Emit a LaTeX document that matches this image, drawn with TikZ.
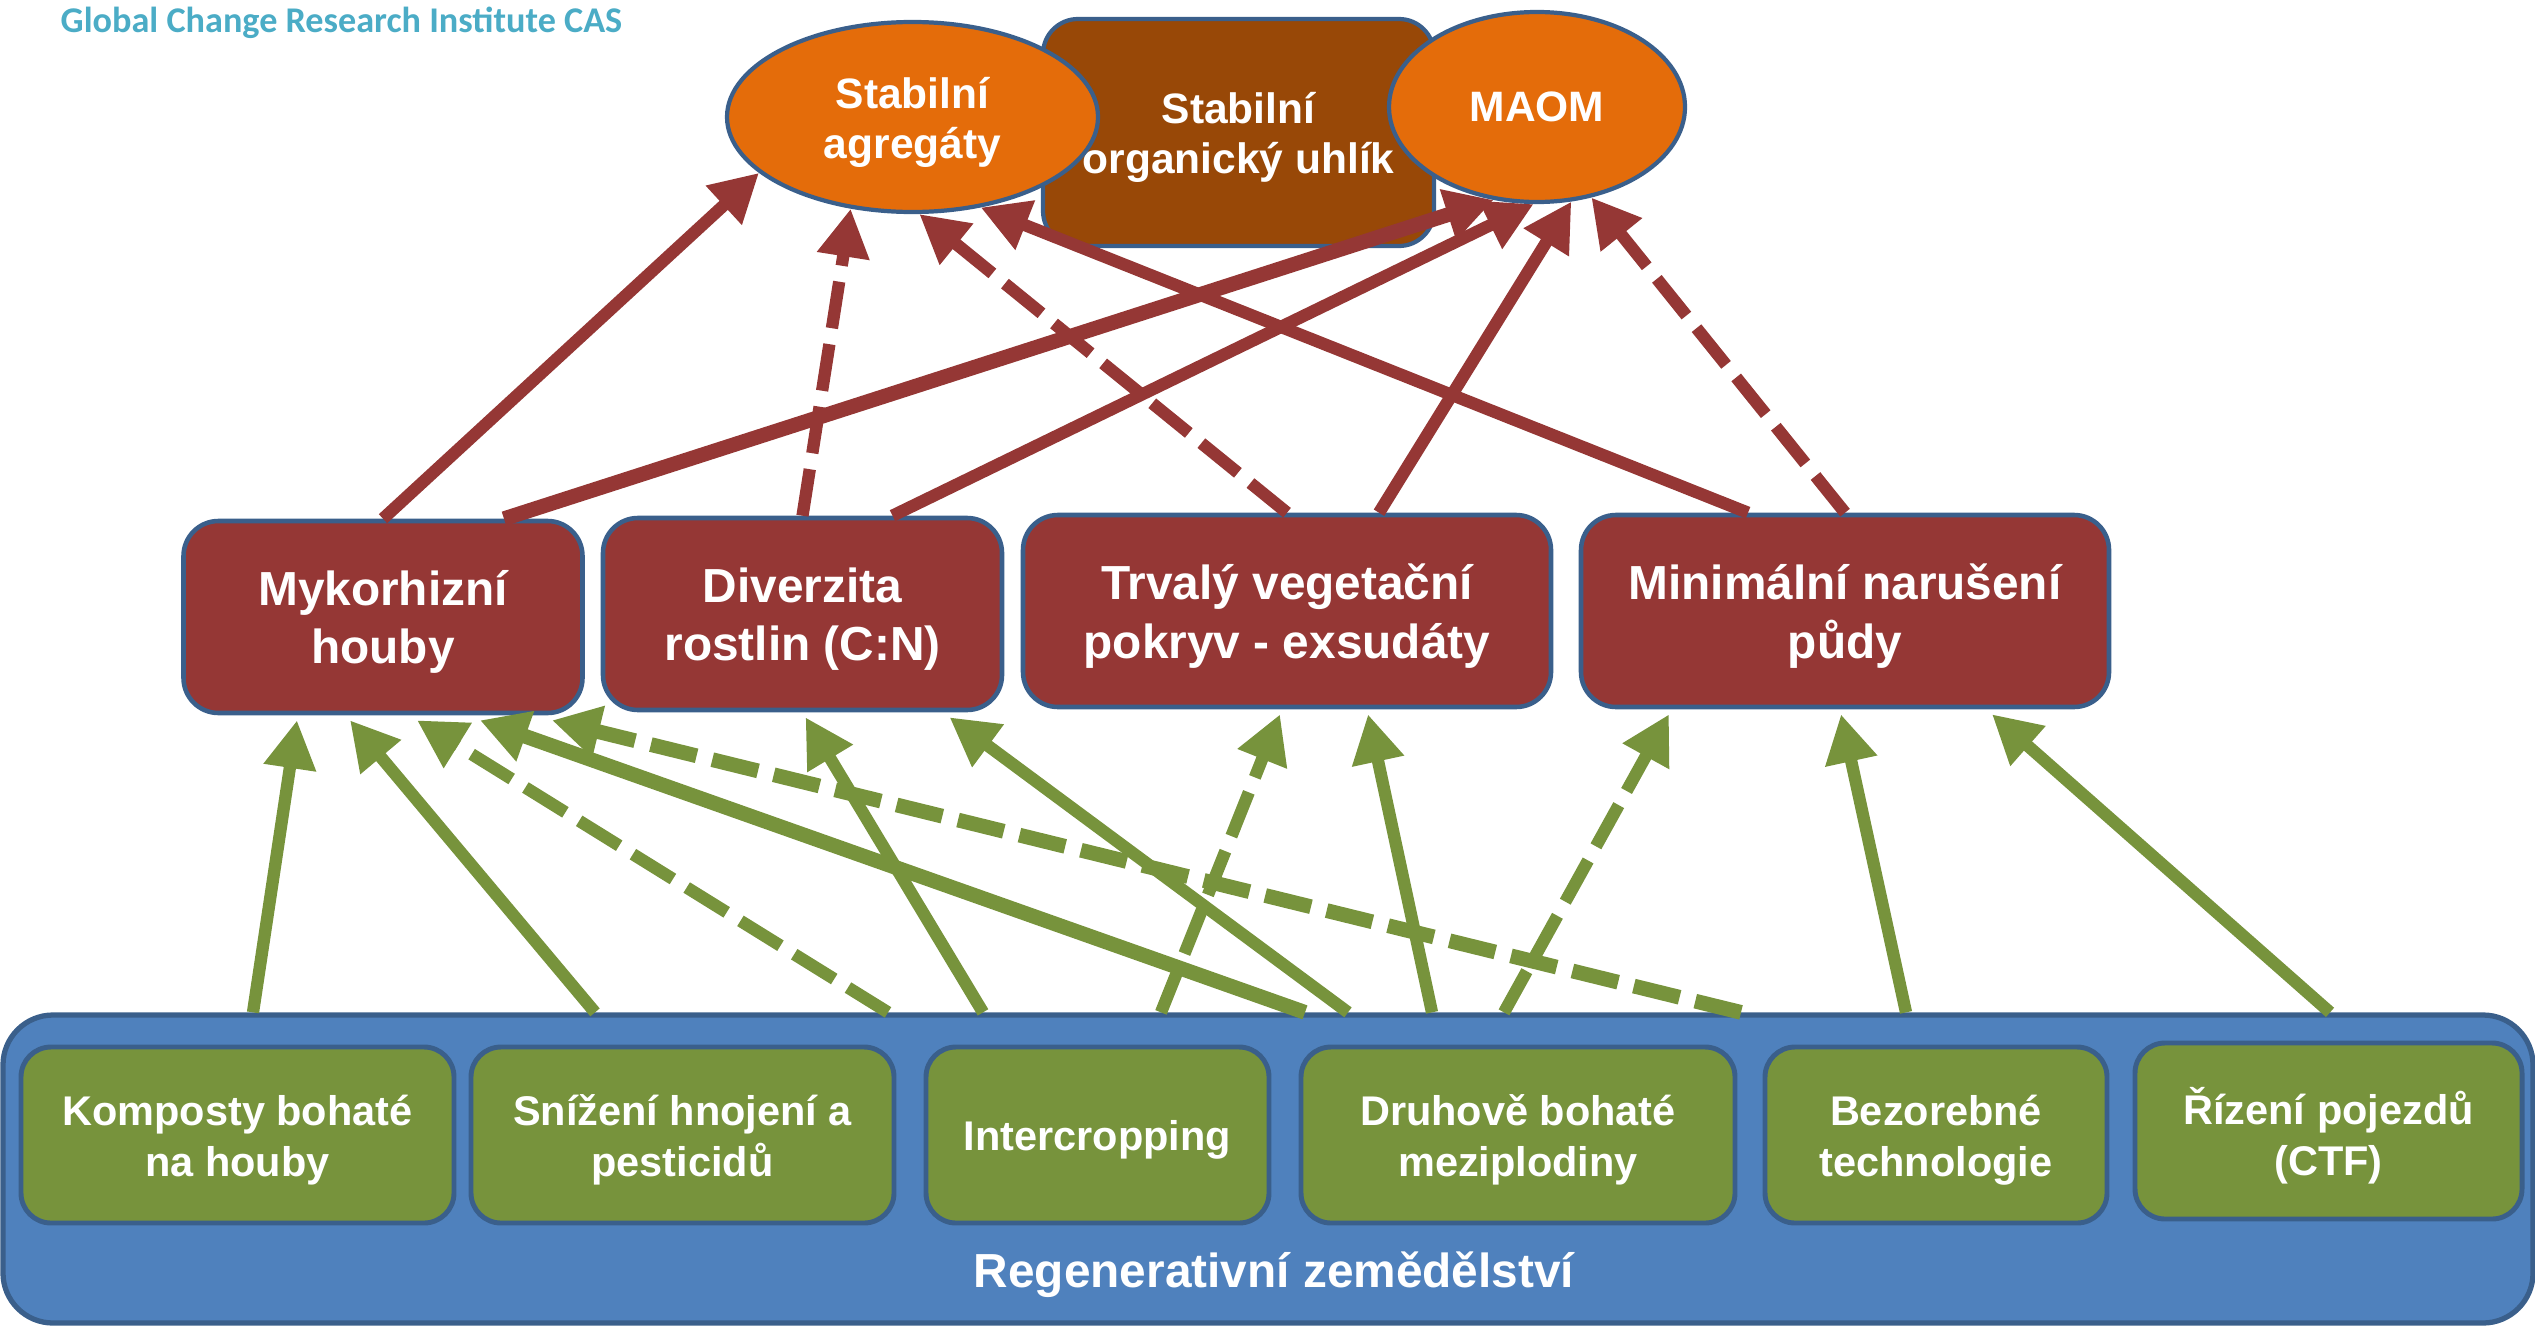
\documentclass[tikz,border=0pt]{standalone}
\usepackage{fontspec}
\setmainfont{Liberation Sans}
\newfontfamily\gcrifont{Carlito}
\usetikzlibrary{arrows.meta,shapes.geometric}

\definecolor{boxblue}{HTML}{3A5F8B}
\definecolor{regblue}{HTML}{4F81BD}
\definecolor{leafgreen}{HTML}{77933C}
\definecolor{rustred}{HTML}{953735}
\definecolor{soilorange}{HTML}{E46C0A}
\definecolor{soilbrown}{HTML}{984807}
\definecolor{gcriteal}{HTML}{4BACC6}

%lower a text line a little inside its box
\newcommand{\dn}[1]{\raisebox{-0.05cm}[\height][\depth]{#1}}

\tikzset{
  topell/.style={ellipse, draw=boxblue, line width=1.2pt, fill=soilorange, inner sep=0pt,
    text=white, font=\bfseries\fontsize{12.1}{14.2}\selectfont, align=center},
  topbox/.style={rectangle, rounded corners=0.35cm, draw=boxblue, line width=1.2pt, fill=soilbrown,
    inner sep=0pt, text=white, font=\bfseries\fontsize{12.1}{14.2}\selectfont, align=center},
  midbox/.style={rectangle, rounded corners=0.35cm, draw=boxblue, line width=1.3pt, fill=rustred,
    minimum height=1.92cm, inner sep=0pt, text=white, font=\bfseries\fontsize{13.6}{16.6}\selectfont, align=center},
  practice/.style={rectangle, rounded corners=0.3cm, draw=boxblue, line width=1.4pt, fill=leafgreen,
    minimum height=1.76cm, inner sep=0pt, text=white, font=\bfseries\fontsize{11.8}{14.6}\selectfont, align=center},
  redarrow/.style={draw=rustred, -{Triangle[length=0.48cm,width=0.5cm]}},
  greenarrow/.style={draw=leafgreen, -{Triangle[length=0.48cm,width=0.5cm]}},
  dashline/.style={dash pattern=on 13.4pt off 4.6pt},
}

\begin{document}
\begin{tikzpicture}
  \useasboundingbox (0,0) rectangle (25.35,-13.25);

  %institute name, top left
  \node[anchor=base west, inner sep=0pt, text=gcriteal, font=\gcrifont\bfseries\fontsize{10.3}{12}\selectfont]
    (gcri) at (0.60,-0.33) {Global Change Research Institute CAS};

  %bottom: regenerative agriculture and its practices
  \node[rectangle, rounded corners=0.5cm, draw=boxblue, line width=1.5pt, fill=regblue, inner sep=0pt,
    minimum width=25.30cm, minimum height=3.08cm] (regen) at (12.68,-11.69) {};
  \node[text=white, font=\bfseries\fontsize{13.6}{16}\selectfont] (regenlbl) at (12.74,-12.75) {Regenerativní zemědělství};

  \node[practice, minimum width=4.33cm] (B1) at (2.375,-11.35) {\dn{Komposty bohaté}\\\dn{na houby}};
  \node[practice, minimum width=4.23cm] (B2) at (6.825,-11.35) {\dn{Snížení hnojení a}\\\dn{pesticidů}};
  \node[practice, minimum width=3.43cm] (B3) at (10.975,-11.35) {\dn{Intercropping}};
  \node[practice, minimum width=4.34cm] (B4) at (15.18,-11.35) {\dn{Druhově bohaté}\\\dn{meziplodiny}};
  \node[practice, minimum width=3.42cm] (B5) at (19.36,-11.35) {\dn{Bezorebné}\\\dn{technologie}};
  \node[practice, minimum width=3.87cm] (B6) at (23.285,-11.31) {\dn{Řízení pojezdů}\\\dn{(CTF)}};

  %middle: soil processes
  \node[midbox, minimum width=3.99cm] (M1) at (3.83,-6.17) {\dn{Mykorhizní}\\\dn{houby}};
  \node[midbox, minimum width=3.99cm] (M2) at (8.025,-6.14) {\dn{Diverzita}\\\dn{rostlin (C:N)}};
  \node[midbox, minimum width=5.28cm] (M3) at (12.87,-6.11) {\dn{Trvalý vegetační}\\\dn{pokryv - exsudáty}};
  \node[midbox, minimum width=5.28cm] (M4) at (18.45,-6.11) {\dn{Minimální narušení}\\\dn{půdy}};

  %top: outcomes (box first, ellipses overlap it)
  \node[topbox, minimum width=3.91cm, minimum height=2.27cm] (soc) at (12.385,-1.325) {\dn{Stabilní}\\\dn{organický uhlík}};
  \node[topell, minimum width=3.71cm, minimum height=1.90cm] (agg) at (9.125,-1.17) {\dn{Stabilní}\\\dn{agregáty}};
  \node[topell, minimum width=2.96cm, minimum height=1.90cm] (maom) at (15.37,-1.07) {MAOM};

  %practices -> processes
  \foreach \src/\dx/\dst/\tx/\lw/\pat in {
      B1/0.155/M1/-0.86/3.5/solid, B2/-0.875/M1/-0.33/3.5/solid, B2/2.055/M1/0.34/3.5/dashline,
      B4/-2.13/M1/0.97/4.2/solid, B4/2.23/M1/1.69/4.2/dashline,
      B3/-1.145/M2/0.03/3.5/solid, B4/-1.70/M2/1.47/3.5/solid,
      B3/0.635/M3/-0.07/3.5/dashline, B4/-0.86/M3/0.81/3.5/solid,
      B4/-0.14/M4/-1.76/3.5/dashline, B5/-0.30/M4/-0.04/3.5/solid, B6/0.015/M4/1.47/3.5/solid}
    \draw[greenarrow, \pat, line width=\lw pt] ([xshift=\dx cm]\src.north |- regen.north)
      -- ([xshift=\tx cm, yshift=-0.05cm]\dst.south);

  %processes -> outcomes
  \foreach \src/\dx/\dst/\ang/\lw/\pat in {
      M1/0/agg/200/3.5/solid, M1/1.21/maom/245/4.2/solid,
      M2/0/agg/236/3.5/dashline, M2/0.90/maom/268/3.5/solid,
      M3/0/agg/274/3.5/dashline, M3/0.92/maom/290/3.5/solid,
      M4/-0.97/agg/307/3.5/solid, M4/0/maom/301/3.5/dashline}
    \draw[redarrow, \pat, line width=\lw pt] ([xshift=\dx cm]\src.north) -- (\dst.\ang);
\end{tikzpicture}
\end{document}
